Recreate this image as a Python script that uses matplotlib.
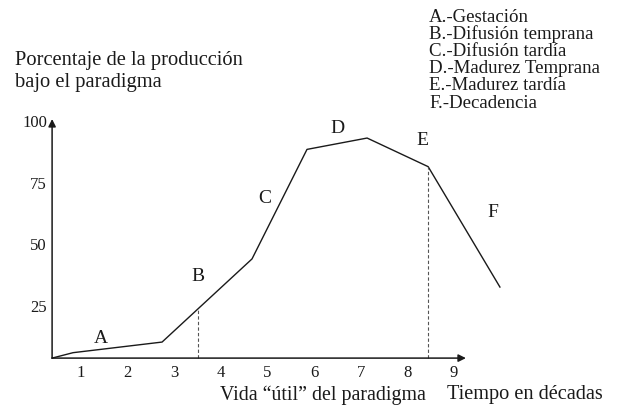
import numpy as np
import matplotlib
matplotlib.use('Agg')
import matplotlib.pyplot as plt

plt.rcParams['font.family'] = ['Liberation Serif', 'DejaVu Serif']

# curve of the paradigm's life (x in decades, y in % of production)
curve_x = [0.38, 0.83, 2.74, 4.67, 5.85, 7.14, 8.45, 9.99]
curve_y = [4.3, 6.5, 10.8, 44.5, 88.9, 93.5, 81.9, 33.1]

x_ticks = [1, 2, 3, 4, 5, 6, 7, 8, 9]
y_ticks = [25, 50, 75, 100]

stage_letters = ['A', 'B', 'C', 'D', 'E', 'F']
stage_x = [1.43, 3.51, 4.95, 6.51, 8.32, 9.84]
stage_y = [12.8, 37.6, 69.2, 97.6, 93.0, 63.9]
stage_names = ['Gestación', 'Difusión temprana', 'Difusión tardía',
               'Madurez Temprana', 'Madurez tardía', 'Decadencia']

dashed_x = [3.51, 8.45]

origin_x, origin_y = 0.38, 4.3
x_end, y_end = 9.26, 101.2

ink = '#1a1a1a'

fig = plt.figure(figsize=(6.18, 4.06), dpi=100)
ax = fig.add_axes([0, 0, 1, 1])
ax.set_xlim(-0.738, 12.524)
ax.set_ylim(-14.71, 149.86)
ax.axis('off')

# axes with arrows
ax.annotate('', xy=(x_end, origin_y), xytext=(origin_x, origin_y),
            arrowprops=dict(arrowstyle='-|>', color=ink, lw=1.1,
                            mutation_scale=11, shrinkA=0, shrinkB=0))
ax.annotate('', xy=(origin_x, y_end), xytext=(origin_x, origin_y),
            arrowprops=dict(arrowstyle='-|>', color=ink, lw=1.1,
                            mutation_scale=11, shrinkA=0, shrinkB=0))

ax.plot(curve_x, curve_y, color=ink, lw=1.0)

for dx in dashed_x:
    top = np.interp(dx, curve_x, curve_y)
    ax.plot([dx, dx], [origin_y, top], color='#555555', lw=0.8,
            linestyle=(0, (3, 2)))

for t in x_ticks:
    ax.text(t, -1.3, str(t), ha='center', va='center', fontsize=12,
            color=ink)
for t in y_ticks:
    ax.text(0.27, t, str(t), ha='right', va='center', fontsize=12,
            color=ink)

for s, sx, sy in zip(stage_letters, stage_x, stage_y):
    ax.text(sx, sy, s, ha='center', va='center', fontsize=14, color=ink)

fig.text(15 / 618, 1 - 60 / 406, 'Porcentaje de la producción',
         ha='left', va='center', fontsize=14.8, color=ink)
fig.text(15 / 618, 1 - 83 / 406, 'bajo el paradigma',
         ha='left', va='center', fontsize=14.8, color=ink)

fig.text(220 / 618, 1 - 395 / 406, 'Vida “útil” del paradigma',
         ha='left', va='center', fontsize=14.3, color=ink)
fig.text(447 / 618, 1 - 395 / 406, 'Tiempo en décadas',
         ha='left', va='center', fontsize=14.6, color=ink)

for i, (s, name) in enumerate(zip(stage_letters, stage_names)):
    fig.text(429 / 618, 1 - (17 + 17.2 * i) / 406, s + '.-' + name,
             ha='left', va='center', fontsize=13.6, color=ink)

fig.savefig('out.png', dpi=100)
